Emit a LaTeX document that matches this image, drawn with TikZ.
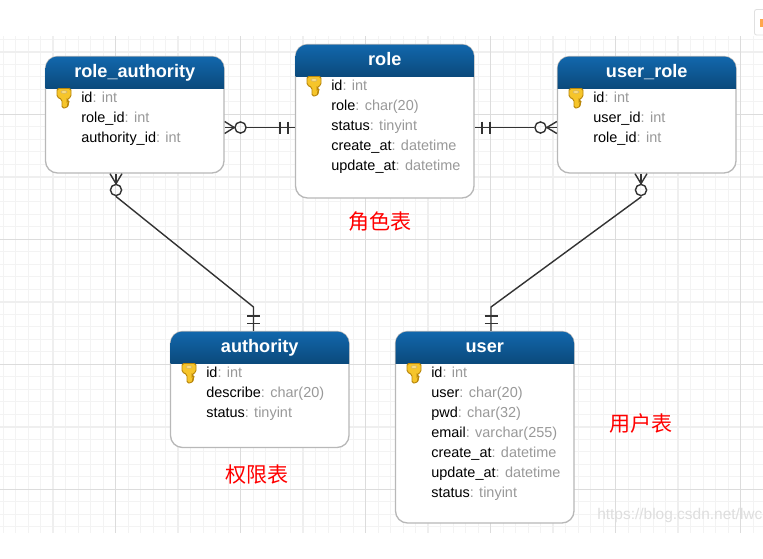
\documentclass[tikz,border=0pt]{standalone}
\usepackage{fontspec}
\setmainfont{Liberation Sans}
\newfontfamily\cjk{Noto Sans CJK SC}
\usetikzlibrary{calc}
\definecolor{gridminor}{HTML}{F3F3F3}
\definecolor{gridmid}{HTML}{EFEFEF}
\definecolor{gridmajor}{HTML}{DCDCDC}
\definecolor{headtop}{HTML}{1268AE}
\definecolor{headbot}{HTML}{0B4A7C}
\definecolor{keyfill}{HTML}{F6C52A}
\definecolor{keyline}{HTML}{B8860B}
\definecolor{typegray}{HTML}{999999}
\definecolor{conn}{HTML}{333333}
\tikzset{
  x=0.75pt,y=-0.75pt,
  entitybox/.style={draw=black!28,line width=1pt,fill=white,rounded corners=9pt,inner sep=0pt},
  titletext/.style={text=white,font=\bfseries\fontsize{13.6}{16}\selectfont,inner sep=0pt,text height=10pt,text depth=3pt},
  fieldtext/.style={anchor=west,inner sep=0pt,font=\fontsize{10.85}{13}\selectfont,text height=8pt,text depth=2pt},
  link/.style={draw=conn,line width=1.05pt},
  opt/.style={circle,draw=conn,line width=1.05pt,minimum size=8.4pt,inner sep=0pt},
  labeltext/.style={text=red,inner sep=0pt,font=\cjk\fontsize{15.8}{18}\selectfont},
}
% name, x1, y1, x2, y2, title, rows
\newcommand{\entity}[7]{%
  \node[entitybox,minimum width={(#4-#2)*0.75pt},minimum height={(#5-#3)*0.75pt}] (#1) at ({(#2+#4)/2},{(#3+#5)/2}) {};
  \begin{scope}
    \clip[rounded corners=9pt] (#2,#3) rectangle (#4,#5);
    \shade[top color=headtop,bottom color=headbot] (#2-1,#3-1) rectangle (#4+1,#3+31.5);
  \end{scope}
  \node[titletext] (#1-title) at ({(#2+#4)/2},#3+16.5) {#6};
  % key icon
  \begin{scope}[shift={(#2+11.5,#3+32)}]
    \draw[fill=keyfill,draw=keyline,line width=0.7pt,rounded corners=1.2pt]
      (0,0) -- (14,0) -- (14,8.5) -- (10,11) -- (10,12.5) -- (12.5,13) -- (10.5,15) -- (11.5,17) -- (9,19.5) -- (5,19.5) -- (5,11) -- (0,8.5) -- cycle;
    \fill[keyline!60!white] (7,3.5) ellipse (3.4 and 1.7);
    \fill[keyfill!60!white] (7,3.5) ellipse (2.4 and 1);
  \end{scope}
  \foreach \fname/\ftype [count=\k from 0] in {#7} {
    \node[fieldtext] (#1-f\k) at (#2+35.5,#3+41.5+20*\k) {\fname\textcolor{typegray}{: \ftype}};
  }
}
\begin{document}
\begin{tikzpicture}
\useasboundingbox (0,0) rectangle (763,558);
\fill[white] (0,0) rectangle (763,558);
% grid
\begin{scope}
\clip (0,36) rectangle (763,533);
\foreach \i in {-1,...,61} {
  \draw[gridminor,line width=0.75pt] ({3.2+12.5*\i},36) -- ({3.2+12.5*\i},533);
  \draw[gridminor,line width=0.75pt] (0,{1.5+12.5*\i}) -- (763,{1.5+12.5*\i});
}
\foreach \i in {-1,...,6} {
  \draw[gridmid,line width=1.5pt] ({53.2+125*\i},36) -- ({53.2+125*\i},533);
  \draw[gridmid,line width=1.5pt] (0,{51.5+125*\i}) -- (763,{51.5+125*\i});
}
\foreach \i in {-1,...,6} {
  \draw[gridmajor,line width=0.75pt] ({115.7+125*\i},36) -- ({115.7+125*\i},533);
  \draw[gridmajor,line width=0.75pt] (0,{114+125*\i}) -- (763,{114+125*\i});
}
\end{scope}
% corner tab
\draw[fill=white,draw=black!12,line width=0.6pt,rounded corners=1.5pt] (754.5,9.5) rectangle (770,35);
\fill[orange!70] (760,19) rectangle (763,27);
% entities
\entity{ra}{45.5}{56.5}{224}{173}{role\_authority}{id/int,role\_id/int,authority\_id/int}
\entity{role}{295.5}{44.5}{474}{198}{role}{id/int,role/char(20),status/tinyint,create\_at/datetime,update\_at/datetime}
\entity{ur}{557.5}{56.5}{736}{173}{user\_role}{id/int,user\_id/int,role\_id/int}
\entity{auth}{170.5}{331.5}{349}{447.5}{authority}{id/int,describe/char(20),status/tinyint}
\entity{user}{395.5}{331.5}{574}{523}{user}{id/int,user/char(20),pwd/char(32),email/varchar(255),create\_at/datetime,update\_at/datetime,status/tinyint}
% connector: role_authority - role
\coordinate (rowA) at (0,127.5);
\node[opt] (oa) at (240.5,127.5) {};
\draw[link] (oa) -- (role.west |- rowA);
\draw[link] (oa.west) -- (ra.east |- oa);
\draw[link] ($(ra.east |- oa)+(0,-6)$) -- (oa.west) -- ($(ra.east |- oa)+(0,6)$);
\draw[link] ($(oa)+(39.5,-6)$) -- ($(oa)+(39.5,6)$);
\draw[link] ($(oa)+(47.5,-6)$) -- ($(oa)+(47.5,6)$);
% connector: role - user_role
\node[opt] (ob) at (540.5,127.5) {};
\draw[link] (role.east |- rowA) -- (ob);
\draw[link] (ob.east) -- (ur.west |- ob);
\draw[link] ($(ur.west |- ob)+(0,-6)$) -- (ob.east) -- ($(ur.west |- ob)+(0,6)$);
\draw[link] ($(ob)+(-58.5,-6)$) -- ($(ob)+(-58.5,6)$);
\draw[link] ($(ob)+(-50.5,-6)$) -- ($(ob)+(-50.5,6)$);
% connector: role_authority - authority
\node[opt] (oc) at (116,190) {};
\coordinate (bendc) at (253.5,307);
\draw[link] (oc.south) -- (116,196.5) -- (bendc) -- (bendc |- auth.north);
\draw[link] (oc.north) -- (oc |- ra.south);
\draw[link] ($(oc |- ra.south)+(-6,0)$) -- (oc.north) -- ($(oc |- ra.south)+(6,0)$);
\draw[link] ($(bendc)+(-6.5,9)$) -- ($(bendc)+(6.5,9)$);
\draw[link] ($(bendc)+(-6.5,16.5)$) -- ($(bendc)+(6.5,16.5)$);
% connector: user_role - user
\node[opt] (od) at (641,190) {};
\coordinate (bendd) at (491,307);
\draw[link] (od.south) -- (641,197) -- (bendd) -- (bendd |- user.north);
\draw[link] (od.north) -- (od |- ur.south);
\draw[link] ($(od |- ur.south)+(-6,0)$) -- (od.north) -- ($(od |- ur.south)+(6,0)$);
\draw[link] ($(bendd)+(-6.5,9)$) -- ($(bendd)+(6.5,9)$);
\draw[link] ($(bendd)+(-6.5,16.5)$) -- ($(bendd)+(6.5,16.5)$);
% labels
\node[labeltext] (l1) at (380,222) {角色表};
\node[labeltext] (l2) at (641,423) {用户表};
\node[labeltext] (l3) at (257,475) {权限表};
\node[anchor=west,inner sep=0pt,text=black!13,font=\fontsize{11.6}{13}\selectfont] (wm) at (597,515) {https://blog.csdn.net/lwc};
\end{tikzpicture}
\end{document}
